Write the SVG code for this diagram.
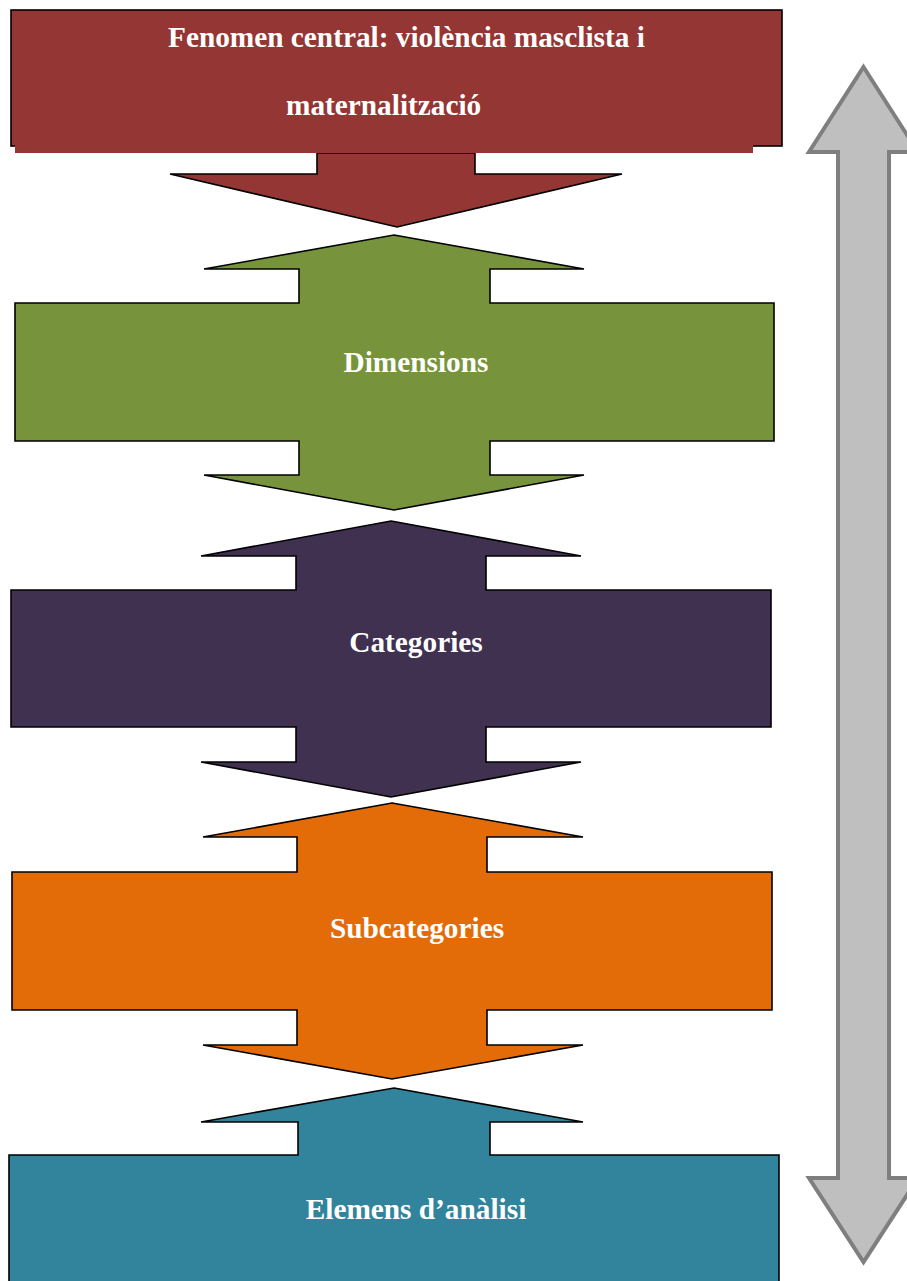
<svg xmlns="http://www.w3.org/2000/svg" width="907" height="1281" viewBox="0 0 907 1281">
<style>
.s{stroke:#000;stroke-width:1.6;stroke-linejoin:miter}
.t{font-family:"Liberation Serif","Times New Roman",serif;font-weight:bold;font-size:29.3px;fill:#fff}
.c{text-anchor:middle}
</style>
<rect width="907" height="1281" fill="#fff"/>
<g id="scale-arrow">
<polygon points="863.5,67 918,152 889,152 889,1178 918,1178 863.5,1262 809,1178 838,1178 838,152 809,152" fill="#bfbfbf" stroke="#7f7f7f" stroke-width="4"/>
</g>
<g id="fenomen">
<rect x="11" y="10" width="771" height="136" fill="#943634" class="s"/>
<polygon points="317,153 317,174 170,174 397,227 622,174 475,174 475,153" fill="#943634" class="s"/>
<rect x="15" y="11" width="738" height="142" fill="#943634"/>
<text class="t" x="168" y="47">Fenomen central: violència masclista i</text>
<text class="t" x="286" y="115">maternalització</text>
</g>
<g id="dimensions">
<polygon class="s" fill="#77933c" points="394,235 584,269 490,269 490,303 774,303 774,441 490,441 490,475 584,475 394,510 204,475 299,475 299,441 15,441 15,303 299,303 299,269 204,269"/>
<text class="t c" x="416" y="372">Dimensions</text>
</g>
<g id="categories">
<polygon class="s" fill="#403151" points="391,521 581,556 486,556 486,590 771,590 771,727 486,727 486,762 581,762 391,797 201,762 296,762 296,727 11,727 11,590 296,590 296,556 201,556"/>
<text class="t c" x="416" y="652">Categories</text>
</g>
<g id="subcategories">
<polygon class="s" fill="#e36c09" points="392,803 583,837 487,837 487,872 772,872 772,1010 487,1010 487,1045 583,1045 392,1079 203,1045 297,1045 297,1010 12,1010 12,872 297,872 297,837 203,837"/>
<text class="t c" x="417" y="938">Subcategories</text>
</g>
<g id="elements">
<polygon class="s" fill="#31849b" points="394,1088 583,1122 490,1122 490,1155 779,1155 779,1290 9,1290 9,1155 298,1155 298,1122 201,1122"/>
<text class="t c" x="416" y="1219">Elemens d’anàlisi</text>
</g>
<g id="connectors"></g>
</svg>
